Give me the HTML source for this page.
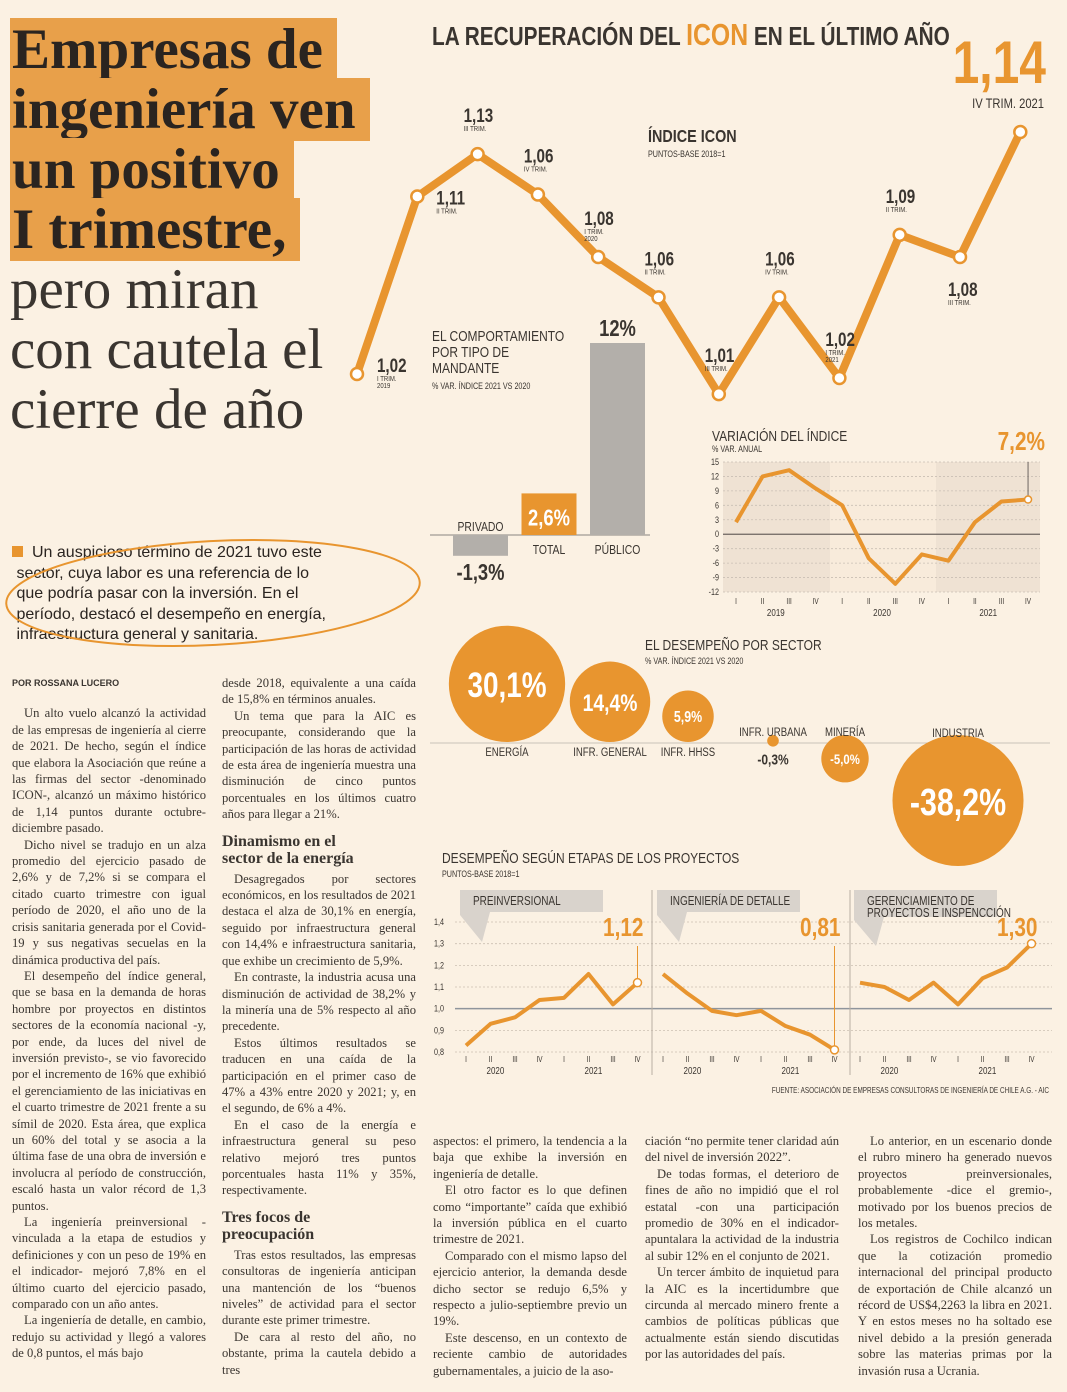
<!DOCTYPE html>
<html lang="es"><head><meta charset="utf-8"><style>
*{margin:0;padding:0;box-sizing:border-box}
body{width:1067px;height:1392px;background:#fbf1e3;position:relative;overflow:hidden;font-family:"Liberation Serif",serif;color:#3a3530}
.hl{position:absolute;left:10px;font-family:"Liberation Serif",serif;font-size:57px;line-height:60px;white-space:nowrap}
.hl b{background:#e8a04a;padding:0 14px 0 2px;color:#2a2420}
.hl2{font-weight:normal;color:#3a3530}
.col{position:absolute;width:194px;font-size:12.6px;line-height:16.4px;text-align:justify;hyphens:auto;-webkit-hyphens:auto;color:#3a3530}
.col p{text-indent:12px}
.col h3{font-size:16px;line-height:17px;font-weight:bold;margin:10px 0 4px;text-align:left}
svg text{font-family:"Liberation Sans",sans-serif}
</style></head><body>
<div class="hl" style="top:20px"><b>Empresas de</b></div>
<div class="hl" style="top:80px"><b>ingeniería ven</b></div>
<div class="hl" style="top:140px"><b>un positivo</b></div>
<div class="hl" style="top:200px"><b>I trimestre,</b></div>
<div class="hl hl2" style="top:260px">pero miran</div>
<div class="hl hl2" style="top:320px">con cautela el</div>
<div class="hl hl2" style="top:380px">cierre de año</div>

<div style="position:absolute;left:12px;top:543px;width:380px;font-family:'Liberation Sans',sans-serif;font-size:16px;line-height:20.6px;color:#2a2420;white-space:nowrap"><span style="display:inline-block;width:11px;height:11px;background:#e8952f;margin-right:9px"></span>Un auspicioso término de 2021 tuvo este<br>&nbsp;sector, cuya labor es una referencia de lo<br>&nbsp;que podría pasar con la inversión. En el<br>&nbsp;período, destacó el desempeño en energía,<br>&nbsp;infraestructura general y sanitaria.</div>

<div class="col" style="left:12px;top:675px">
<div style="font-family:'Liberation Sans',sans-serif;font-size:9px;font-weight:bold;margin-bottom:14px">POR ROSSANA LUCERO</div>
<p>Un alto vuelo alcanzó la actividad de las empresas de ingeniería al cierre de 2021. De hecho, según el índice que elabora la Asociación que reúne a las firmas del sector -denominado ICON-, alcanzó un máximo histórico de 1,14 puntos durante octubre-diciembre pasado.</p>
<p>Dicho nivel se tradujo en un alza promedio del ejercicio pasado de 2,6% y de 7,2% si se compara el citado cuarto trimestre con igual período de 2020, el año uno de la crisis sanitaria generada por el Covid-19 y sus negativas secuelas en la dinámica productiva del país.</p>
<p>El desempeño del índice general, que se basa en la demanda de horas hombre por proyectos en distintos sectores de la economía nacional -y, por ende, da luces del nivel de inversión previsto-, se vio favorecido por el incremento de 16% que exhibió el gerenciamiento de las iniciativas en el cuarto trimestre de 2021 frente a su símil de 2020. Esta área, que explica un 60% del total y se asocia a la última fase de una obra de inversión e involucra al período de construcción, escaló hasta un valor récord de 1,3 puntos.</p>
<p>La ingeniería preinversional -vinculada a la etapa de estudios y definiciones y con un peso de 19% en el indicador- mejoró 7,8% en el último cuarto del ejercicio pasado, comparado con un año antes.</p>
<p>La ingeniería de detalle, en cambio, redujo su actividad y llegó a valores de 0,8 puntos, el más bajo</p>
</div>
<div class="col" style="left:222px;top:675px">
<p style="text-indent:0">desde 2018, equivalente a una caída de 15,8% en términos anuales.</p>
<p>Un tema que para la AIC es preocupante, considerando que la participación de las horas de actividad de esta área de ingeniería muestra una disminución de cinco puntos porcentuales en los últimos cuatro años para llegar a 21%.</p>
<h3>Dinamismo en el<br>sector de la energía</h3>
<p>Desagregados por sectores económicos, en los resultados de 2021 destaca el alza de 30,1% en energía, seguido por infraestructura general con 14,4% e infraestructura sanitaria, que exhibe un crecimiento de 5,9%.</p>
<p>En contraste, la industria acusa una disminución de actividad de 38,2% y la minería una de 5% respecto al año precedente.</p>
<p>Estos últimos resultados se traducen en una caída de la participación en el primer caso de 47% a 43% entre 2020 y 2021; y, en el segundo, de 6% a 4%.</p>
<p>En el caso de la energía e infraestructura general su peso relativo mejoró tres puntos porcentuales hasta 11% y 35%, respectivamente.</p>
<h3>Tres focos de<br>preocupación</h3>
<p>Tras estos resultados, las empresas consultoras de ingeniería anticipan una mantención de los “buenos niveles” de actividad para el sector durante este primer trimestre.</p>
<p>De cara al resto del año, no obstante, prima la cautela debido a tres</p>
</div>
<div class="col" style="left:433px;top:1133px">
<p style="text-indent:0">aspectos: el primero, la tendencia a la baja que exhibe la inversión en ingeniería de detalle.</p>
<p>El otro factor es lo que definen como “importante” caída que exhibió la inversión pública en el cuarto trimestre de 2021.</p>
<p>Comparado con el mismo lapso del ejercicio anterior, la demanda desde dicho sector se redujo 6,5% y respecto a julio-septiembre previo un 19%.</p>
<p>Este descenso, en un contexto de reciente cambio de autoridades gubernamentales, a juicio de la aso-</p>
</div>
<div class="col" style="left:645px;top:1133px">
<p style="text-indent:0">ciación “no permite tener claridad aún del nivel de inversión 2022”.</p>
<p>De todas formas, el deterioro de fines de año no impidió que el rol estatal -con una participación promedio de 30% en el indicador- apuntalara la actividad de la industria al subir 12% en el conjunto de 2021.</p>
<p>Un tercer ámbito de inquietud para la AIC es la incertidumbre que circunda al mercado minero frente a cambios de políticas públicas que actualmente están siendo discutidas por las autoridades del país.</p>
</div>
<div class="col" style="left:858px;top:1133px">
<p>Lo anterior, en un escenario donde el rubro minero ha generado nuevos proyectos preinversionales, probablemente -dice el gremio-, motivado por los buenos precios de los metales.</p>
<p>Los registros de Cochilco indican que la cotización promedio internacional del principal producto de exportación de Chile alcanzó un récord de US$4,2263 la libra en 2021. Y en estos meses no ha soltado ese nivel debido a la presión generada sobre las materias primas por la invasión rusa a Ucrania.</p>
</div>

<svg id="g" width="1067" height="1392" style="position:absolute;left:0;top:0" xmlns="http://www.w3.org/2000/svg">
<ellipse cx="213" cy="593" rx="207" ry="52" transform="rotate(-3 213 593)" fill="none" stroke="#e8952f" stroke-width="2"/>
<text x="432" y="45" font-size="26" font-weight="bold" fill="#3a3530">LA RECUPERACIÓN DEL <tspan fill="#e8952f" font-size="31">ICON</tspan> EN EL ÚLTIMO AÑO</text>
<text x="648" y="142" font-size="18" font-weight="bold" fill="#3a3530">ÍNDICE ICON</text>
<text x="648" y="157" font-size="9" fill="#3a3530">PUNTOS-BASE 2018=1</text>
<text x="1046" y="83" font-size="60" font-weight="bold" fill="#e8952f" text-anchor="end">1,14</text>
<text x="1044" y="108" font-size="14" fill="#3a3530" text-anchor="end">IV TRIM. 2021</text>
<g id="icon"></g>

<text x="432" y="341" font-size="15" fill="#3a3530"><tspan x="432">EL COMPORTAMIENTO</tspan><tspan x="432" dy="16">POR TIPO DE</tspan><tspan x="432" dy="16">MANDANTE</tspan></text>
<text x="432" y="389" font-size="9" fill="#3a3530">% VAR. ÍNDICE 2021 VS 2020</text>
<g id="bars"></g>

<g id="var"></g>
<text x="712" y="441" font-size="15" fill="#3a3530">VARIACIÓN DEL ÍNDICE</text>
<text x="712" y="452" font-size="9" fill="#3a3530">% VAR. ANUAL</text>
<text x="1045" y="450" font-size="26" font-weight="bold" fill="#e8952f" text-anchor="end">7,2%</text>

<text x="645" y="650" font-size="15" fill="#3a3530">EL DESEMPEÑO POR SECTOR</text>
<text x="645" y="664" font-size="9" fill="#3a3530">% VAR. ÍNDICE 2021 VS 2020</text>
<g id="bub"></g>

<text x="442" y="863" font-size="15" fill="#3a3530">DESEMPEÑO SEGÚN ETAPAS DE LOS PROYECTOS</text>
<text x="442" y="877" font-size="9" fill="#3a3530">PUNTOS-BASE 2018=1</text>
<g id="stages"></g>
<text x="1049" y="1093" font-size="8" fill="#3a3530" text-anchor="end">FUENTE: ASOCIACIÓN DE EMPRESAS CONSULTORAS DE INGENIERÍA DE CHILE A.G. - AIC</text>
</svg>

<script>
const OR='#e8952f', DK='#3a3530', NS='http://www.w3.org/2000/svg';
// ICON index data
const iconValues=[1.020,1.108,1.129,1.109,1.078,1.058,1.010,1.058,1.018,1.089,1.078,1.140];
const iconLabels=["1,02","1,11","1,13","1,06","1,08","1,06","1,01","1,06","1,02","1,09","1,08","1,14"];
const iconQuarters=["I TRIM.|2019","II TRIM.","III TRIM.","IV TRIM.","I TRIM.|2020","II TRIM.","III TRIM.","IV TRIM.","I TRIM.|2021","II TRIM.","III TRIM.","IV TRIM."];
// Variation chart
const varValues=[2.5,12,13.3,9.5,6,-5,-10.3,-4.2,-5.5,2.5,6.8,7.2];
const varTicks=[15,12,9,6,3,0,-3,-6,-9,-12];
const quarterNames=["I","II","III","IV"];
const varYears=["2019","2020","2021"];
// Mandante bars
const barCats=["PRIVADO","TOTAL","PÚBLICO"];
const barValues=[-1.3,2.6,12];
const barLabels=["-1,3%","2,6%","12%"];
// Sectors
const sectorCats=["ENERGÍA","INFR. GENERAL","INFR. HHSS","INFR. URBANA","MINERÍA","INDUSTRIA"];
const sectorValues=[30.1,14.4,5.9,-0.3,-5.0,-38.2];
const sectorLabels=["30,1%","14,4%","5,9%","-0,3%","-5,0%","-38,2%"];
// Stages
const stageNames=["PREINVERSIONAL","INGENIERÍA DE DETALLE","GERENCIAMIENTO DE|PROYECTOS E INSPENCCIÓN"];
const stagePre=[0.83,0.93,0.96,1.04,1.05,1.16,1.02,1.12];
const stageDet=[1.16,1.07,0.99,0.97,0.99,0.92,0.88,0.81];
const stageGer=[1.12,1.10,1.04,1.12,1.02,1.14,1.19,1.30];
const stageLast=["1,12","0,81","1,30"];
const stageTicks=[1.4,1.3,1.2,1.1,1.0,0.9,0.8];
const stageTickLabels=["1,4","1,3","1,2","1,1","1,0","0,9","0,8"];

function el(tag,attrs,parent,txt){const e=document.createElementNS(NS,tag);for(const k in attrs)e.setAttribute(k,attrs[k]);if(txt!==undefined)e.textContent=txt;parent.appendChild(e);return e;}

// ICON chart
(function(){
 const g=document.getElementById('icon');
 const x=i=>357+i*60.3, y=v=>374-(v-1.02)*2017;
 const pts=iconValues.map((v,i)=>x(i)+','+y(v)).join(' ');
 const pl=el('polyline',{points:pts,fill:'none',stroke:OR,'stroke-width':8,'stroke-linejoin':'round'},g);
 
 
 iconValues.forEach((v,i)=>{
  const c=el('circle',{cx:x(i),cy:y(v),r:6,fill:'#fff',stroke:OR,'stroke-width':2.5},g);
  
  
  if(i===11)return;
  let lx=x(i)-14, ly=y(v)-32;
  if(i===0){lx=x(i)+20;ly=y(v)-2;}
  if(i===1){lx=x(i)+19;ly=y(v)+8;}
  if(i===10){lx=x(i)-12;ly=y(v)+39;}
  const t=el('text',{x:lx,y:ly,'font-size':19,'font-weight':'bold',fill:DK},g,iconLabels[i]);
  
  
  const q=iconQuarters[i].split('|');
  q.forEach((s,k)=>{const tq=el('text',{x:lx,y:ly+9+k*7,'font-size':7.5,fill:DK},g,s);
   
   });
 });
})();

// Bars
(function(){
 const g=document.getElementById('bars');
 const y0=535,k=16;
 const bx=i=>453+i*68.5;
 el('line',{x1:430,x2:650,y1:y0,y2:y0,stroke:'#8a8580','stroke-width':1},g);
 barValues.forEach((v,i)=>{
  const h=Math.abs(v)*k;
  const r=el('rect',{x:bx(i),y:v>=0?y0-h:y0,width:55,height:h,fill:i===1?OR:'#b3afaa'},g);
  
  
  const cx=bx(i)+27.5;
  const vt=el('text',{x:cx,y:v>=0?y0-h-7:y0+h+24,'font-size':23,'font-weight':'bold','text-anchor':'middle',fill:i===1?'#fff':DK},g,barLabels[i]);
  if(i===1)vt.setAttribute('y',y0-h+32);
  
  
  const ct=el('text',{x:cx,y:v>=0?y0+19:y0-4,'font-size':13,'text-anchor':'middle',fill:DK},g,barCats[i]);
  
  
 });
})();

// Variation chart
(function(){
 const g=document.getElementById('var');
 const L=723,R=1040,x=i=>736+i*26.55,y=v=>462+(15-v)*4.815;
 el('rect',{x:L,y:462,width:R-L,height:130,fill:'#f8ebdb'},g);
 el('rect',{x:L,y:462,width:107,height:130,fill:'#efe2d3'},g);
 el('rect',{x:936,y:462,width:R-936,height:130,fill:'#efe2d3'},g);
 varTicks.forEach(t=>{
  el('line',{x1:L,x2:R,y1:y(t),y2:y(t),stroke:t===0?'#6d6560':'#c9bfb4','stroke-width':t===0?1.3:0.8,'stroke-dasharray':t===0?'':'2,2'},g);
  const tt=el('text',{x:719,y:y(t)+3,'font-size':9,'text-anchor':'end',fill:DK},g,String(t));
  
  
 });
 varValues.forEach((v,i)=>{
  const t=el('text',{x:x(i),y:604,'font-size':8,'text-anchor':'middle',fill:DK},g,quarterNames[i%4]);
  
  
 });
 varYears.forEach((s,j)=>{const t=el('text',{x:x(j*4+1.5),y:616,'font-size':10,'text-anchor':'middle',fill:DK},g,s);
  
  });
 const last=varValues.length-1;
 el('line',{x1:x(last),x2:x(last),y1:462,y2:y(varValues[last]),stroke:'#6d6560','stroke-width':1},g);
 const pl=el('polyline',{points:varValues.map((v,i)=>x(i)+','+y(v)).join(' '),fill:'none',stroke:OR,'stroke-width':4,'stroke-linejoin':'round'},g);
 
 
 const c=el('circle',{cx:x(last),cy:y(varValues[last]),r:3.5,fill:'#fff',stroke:OR,'stroke-width':1.5},g);
 
 
})();

// Bubbles
(function(){
 const g=document.getElementById('bub');
 const base=743,k=10.6;
 const cxs=[507,610,688,773,845,958];
 el('line',{x1:430,x2:1050,y1:base,y2:base,stroke:'#c9c2ba','stroke-width':1},g);
 sectorValues.forEach((v,i)=>{
  const r=k*Math.sqrt(Math.abs(v));
  const cy=v>=0?base-r-1:base+r-8;
  const c=el('circle',{cx:cxs[i],cy:cy,r:r,fill:OR},g);
  
  
  const fs=Math.max(14,Math.min(38,r*0.6));
  const inside=r>15;
  const t=el('text',{x:cxs[i],y:inside?cy+fs*0.38:cy+r+18,'font-size':inside?fs:15,'font-weight':'bold','text-anchor':'middle',fill:inside?'#fff':DK},g,sectorLabels[i]);
  
  
  const lt=el('text',{x:cxs[i],y:v>=0?base+13:(i===5?base-6:base-7),'font-size':12,'text-anchor':'middle',fill:DK},g,sectorCats[i]);
  
  
 });
})();

// Stages
(function(){
 const g=document.getElementById('stages');
 const y=v=>922+(1.4-v)*216.7;
 const starts=[466,663,860], step=24.5, series=[stagePre,stageDet,stageGer];
 stageTicks.forEach((t,j)=>{
  el('line',{x1:455,x2:1052,y1:y(t),y2:y(t),stroke:t===1.0?'#8f959c':'#cbbfb2','stroke-width':t===1.0?1.5:0.8,'stroke-dasharray':t===1.0?'':'2,2'},g);
  const tt=el('text',{x:434,y:y(t)+3,'font-size':9,fill:DK},g,stageTickLabels[j]);
  
  
 });
 [652,850].forEach(xx=>el('line',{x1:xx,x2:xx,y1:890,y2:1075,stroke:'#b8aea3','stroke-width':1},g));
 series.forEach((s,p)=>{
  const x=i=>starts[p]+i*step;
  const bx=starts[p]-6;
  const poly=el('polygon',{points:`${bx},${890} ${bx+143},890 ${bx+143},${p===2?917:912} ${bx+30},${p===2?917:912} ${bx+22},${p===2?946:942} ${bx},${p===2?920:915}`,fill:'#d9d3cc'},g);
  
  
  stageNames[p].split('|').forEach((nm,k)=>{const t=el('text',{x:bx+13,y:905+k*12,'font-size':12.5,fill:DK},g,nm);
   
   });
  const last=s.length-1;
  el('line',{x1:x(last),x2:x(last),y1:p===2?y(s[last]):946,y2:y(s[last]),stroke:OR,'stroke-width':1},g);
  const pl=el('polyline',{points:s.map((v,i)=>x(i)+','+y(v)).join(' '),fill:'none',stroke:OR,'stroke-width':4,'stroke-linejoin':'round'},g);
  
  
  const c=el('circle',{cx:x(last),cy:y(s[last]),r:4,fill:'#fff',stroke:OR,'stroke-width':1.5},g);
  
  
  const vt=el('text',{x:x(last)+6,y:936,'font-size':26,'font-weight':'bold','text-anchor':'end',fill:OR},g,stageLast[p]);
  
  
  s.forEach((v,i)=>{const t=el('text',{x:x(i),y:1062,'font-size':8,'text-anchor':'middle',fill:DK},g,quarterNames[i%4]);
   
   });
  ['2020','2021'].forEach((yr,j)=>{const t=el('text',{x:x(j*4+1.2),y:1074,'font-size':10,'text-anchor':'middle',fill:DK},g,yr);
   
   });
 });
})();

// condense all svg text horizontally (emulate narrow font)
document.querySelectorAll('#g text').forEach(t=>{
 const x=parseFloat(t.getAttribute('x'))||0;
 const prev=t.getAttribute('transform')||'';
 t.setAttribute('transform',`${prev} translate(${x},0) scale(0.8,1) translate(${-x},0)`);
});
</script>
</body></html>
